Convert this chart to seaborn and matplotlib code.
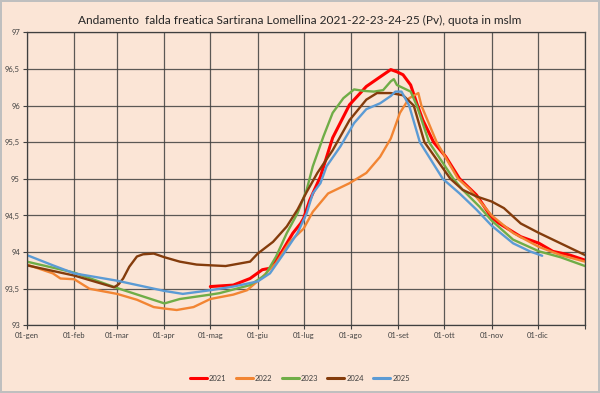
# Livello falda freatica Sartirana Lomellina
import pandas as pd
import matplotlib
matplotlib.use("Agg")
import matplotlib.pyplot as plt
from matplotlib.ticker import FuncFormatter
import seaborn as sns

# Dati (giorno dell'anno, quota in m s.l.m.)
giorni_2021 = [120, 135, 146, 154, 159, 166, 174, 179, 181, 185, 192, 200, 211, 222, 231, 238, 242, 246,
               251, 255, 259, 266, 274, 283, 294, 304, 309, 323, 335, 344, 355, 365]
quota_2021 = [93.53, 93.55, 93.64, 93.76, 93.78, 93.98, 94.26, 94.39, 94.46, 94.71, 95.03, 95.56, 96.01,
              96.26, 96.39, 96.49, 96.46, 96.42, 96.28, 96.03, 95.80, 95.50, 95.30, 95.00, 94.78, 94.47,
              94.39, 94.21, 94.12, 94.01, 93.96, 93.89]

giorni_2022 = [0, 10, 17, 22, 31, 41, 59, 72, 83, 90, 98, 109, 120, 135, 144, 153, 163, 172, 181, 187,
               197, 211, 222, 231, 238, 244, 250, 256, 258, 268, 282, 290, 304, 318, 335, 349, 365]
quota_2022 = [93.83, 93.76, 93.71, 93.64, 93.63, 93.50, 93.43, 93.35, 93.25, 93.23, 93.21, 93.25, 93.36,
              93.42, 93.48, 93.64, 93.85, 94.14, 94.32, 94.55, 94.80, 94.94, 95.08, 95.30, 95.55, 95.90,
              96.10, 96.17, 96.00, 95.50, 95.00, 94.85, 94.50, 94.26, 94.07, 93.96, 93.87]

giorni_2023 = [0, 31, 59, 90, 100, 120, 126, 146, 156, 163, 170, 177, 183, 187, 194, 200, 207, 214, 220,
               227, 233, 238, 240, 242, 251, 255, 263, 279, 285, 296, 304, 318, 335, 349, 365]
quota_2023 = [93.87, 93.72, 93.51, 93.30, 93.36, 93.42, 93.44, 93.55, 93.69, 93.94, 94.26, 94.53, 94.85,
              95.17, 95.58, 95.90, 96.10, 96.22, 96.20, 96.19, 96.21, 96.33, 96.36, 96.28, 96.19, 96.00,
              95.50, 95.00, 94.85, 94.62, 94.43, 94.17, 94.01, 93.93, 93.81]

giorni_2024 = [0, 31, 57, 60, 63, 67, 72, 76, 83, 90, 100, 111, 120, 130, 146, 151, 161, 170, 177, 183,
               190, 200, 211, 222, 229, 238, 246, 253, 260, 277, 285, 294, 304, 312, 323, 335, 347, 365]
quota_2024 = [93.82, 93.68, 93.52, 93.56, 93.64, 93.80, 93.94, 93.97, 93.98, 93.93, 93.87, 93.83, 93.82,
              93.81, 93.87, 93.98, 94.14, 94.35, 94.58, 94.82, 95.08, 95.39, 95.80, 96.08, 96.17, 96.17,
              96.14, 96.00, 95.50, 95.00, 94.85, 94.76, 94.69, 94.60, 94.39, 94.26, 94.14, 93.96]

giorni_2025 = [0, 17, 31, 59, 90, 102, 120, 135, 151, 159, 168, 177, 183, 187, 192, 196, 205, 214, 222,
               231, 238, 241, 245, 250, 257, 272, 283, 294, 304, 318, 329, 337]
quota_2025 = [93.96, 93.82, 93.71, 93.61, 93.47, 93.43, 93.48, 93.53, 93.60, 93.71, 93.98, 94.26, 94.53,
              94.80, 94.94, 95.17, 95.44, 95.76, 95.95, 96.03, 96.13, 96.19, 96.19, 96.00, 95.50, 95.00,
              94.80, 94.58, 94.36, 94.12, 94.01, 93.95]

anni = ["2021", "2022", "2023", "2024", "2025"]
colori = ["#FF0000", "#F28533", "#70AD47", "#843C0C", "#5B9BD5"]

mesi_giorno = [0, 31, 59, 90, 120, 151, 181, 212, 243, 273, 304, 334, 365]
mesi_label = ["01-gen", "01-feb", "01-mar", "01-apr", "01-mag", "01-giu", "01-lug",
              "01-ago", "01-set", "01-ott", "01-nov", "01-dic", ""]

# Tabella in formato lungo
serie = {
    "2021": (giorni_2021, quota_2021),
    "2022": (giorni_2022, quota_2022),
    "2023": (giorni_2023, quota_2023),
    "2024": (giorni_2024, quota_2024),
    "2025": (giorni_2025, quota_2025),
}
righe = []
for anno, (g, q) in serie.items():
    for gi, qi in zip(g, q):
        righe.append({"anno": anno, "giorno": gi, "quota": qi})
df = pd.DataFrame(righe)

# Grafico
sfondo = "#FBE5D6"
sns.set_theme(style="white")
plt.rcParams["font.family"] = ["Lato", "DejaVu Sans"]

fig = plt.figure(figsize=(6, 3.93), dpi=100, facecolor=sfondo)
fig.patch.set_edgecolor("#BFBFBF")
fig.patch.set_linewidth(1.5)
ax = fig.add_axes([0.0447, 0.172, 0.9303, 0.746])
ax.set_facecolor(sfondo)

sns.lineplot(data=df, x="giorno", y="quota", hue="anno", hue_order=anni,
             palette=dict(zip(anni, colori)), estimator=None, sort=False,
             linewidth=1.7, ax=ax, legend=False)
for linea, anno in zip(ax.lines, anni):
    if anno == "2021":
        linea.set_linewidth(2.2)

ax.set_xlim(0, 365)
ax.set_ylim(93, 97)
ax.set_xticks(mesi_giorno)
ax.set_xticklabels(mesi_label)
ax.set_yticks([93, 93.5, 94, 94.5, 95, 95.5, 96, 96.5, 97])
ax.yaxis.set_major_formatter(FuncFormatter(lambda v, p: f"{v:g}".replace(".", ",")))
ax.grid(True, color="#3F3F3F", linewidth=0.9, alpha=0.85)
ax.tick_params(axis="both", labelsize=5.5, colors="#404040", length=3, width=0.8,
               direction="out", bottom=True, left=True, pad=2)
for lato in ["top", "right", "left", "bottom"]:
    ax.spines[lato].set_color("#3F3F3F")
    ax.spines[lato].set_linewidth(0.9)
ax.set_xlabel("")
ax.set_ylabel("")

fig.suptitle("Andamento  falda freatica Sartirana Lomellina 2021-22-23-24-25 (Pv), quota in mslm",
             y=0.963, fontsize=8.6, color="#262626")

maniglie = [plt.Line2D([], [], color=c, linewidth=2.2) for c in colori]
fig.legend(maniglie, anni, loc="center", bbox_to_anchor=(0.5, 0.038), ncol=5, frameon=False,
           fontsize=5.5, handlelength=2.2, handletextpad=0.3, columnspacing=1.2,
           labelcolor="#404040")

fig.savefig("out.png", dpi=100, facecolor=fig.get_facecolor(), edgecolor=fig.get_edgecolor())
